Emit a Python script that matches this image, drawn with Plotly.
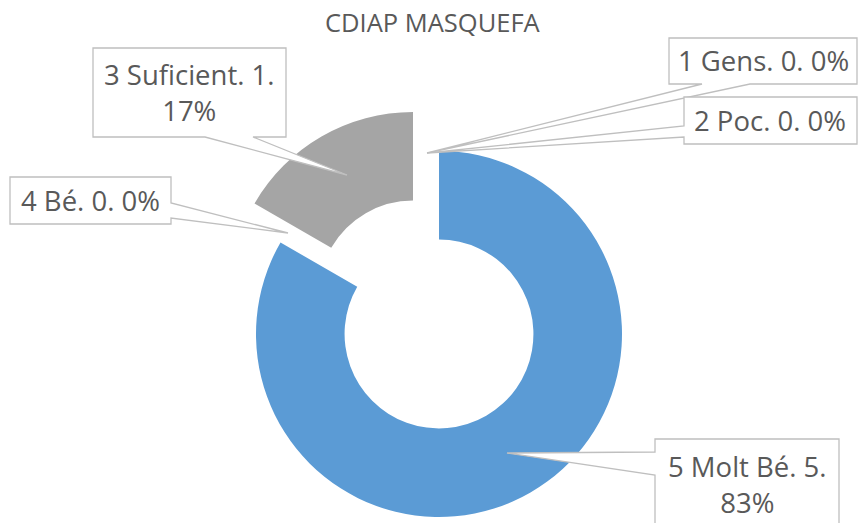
import plotly.graph_objects as go

# ---- data ----
categories = ["1 Gens", "2 Poc", "3 Suficient", "4 Bé", "5 Molt Bé"]
values = [0, 0, 1, 0, 5]
percent_labels = ["0%", "0%", "17%", "0%", "83%"]
title_text = "CDIAP MASQUEFA"

W, H = 858, 523
BLUE = "#5B9BD5"
GRAY = "#A5A5A5"
TXT = "#595959"
LINE = "#BFBFBF"
CLEAR = "rgba(0,0,0,0)"


def px(x):
    return x / W


def py(y):
    return 1 - y / H


def dom(cx, cy, r):
    return dict(x=[px(cx - r), px(cx + r)], y=[py(cy + r), py(cy - r)])


R = 183
HOLE = 0.516

fig = go.Figure()
# main (blue) ring
fig.add_trace(go.Pie(
    labels=categories, values=values, sort=False, direction="counterclockwise",
    rotation=0, hole=HOLE, textinfo="none", hoverinfo="label+value+percent",
    marker=dict(colors=[CLEAR, CLEAR, CLEAR, CLEAR, BLUE], line=dict(width=0)),
    domain=dom(439, 334, R), showlegend=False,
))
# exploded (gray) slice
fig.add_trace(go.Pie(
    labels=categories, values=values, sort=False, direction="counterclockwise",
    rotation=0, hole=HOLE, textinfo="none", hoverinfo="label+value+percent",
    marker=dict(colors=[CLEAR, CLEAR, GRAY, CLEAR, CLEAR], line=dict(width=0)),
    domain=dom(413, 295, R), showlegend=False,
))


def P(x, y):
    return f"{px(x):.5f},{py(y):.5f}"


callouts = [
    [(93, 48), (286, 48), (286, 137), (253, 137), (347, 175), (205, 137), (93, 137)],
    [(10, 177), (171, 177), (171, 203), (288, 233), (171, 218), (171, 224), (10, 224)],
    [(669, 38), (857, 38), (857, 84), (750, 84), (427, 153), (702, 84), (669, 84)],
    [(684, 97), (857, 97), (857, 144), (684, 144), (684, 137), (427, 153), (684, 126)],
    [(655, 439), (839, 439), (839, 560), (655, 560), (655, 475), (507, 453), (655, 452)],
]
shapes = []
for pts in callouts:
    d = "M " + " L ".join(P(x, y) for x, y in pts) + " Z"
    shapes.append(dict(type="path", path=d, xref="paper", yref="paper",
                       fillcolor="white", line=dict(color=LINE, width=1.3),
                       layer="above"))

label_pos = [(763, 61), (770, 120.5), (189.5, 93), (90.5, 200.5), (747, 484)]
annotations = []
for i, (cat, v, pct) in enumerate(zip(categories, values, percent_labels)):
    if cat.startswith("3") or cat.startswith("5"):
        txt = f"{cat}. {v}.<br>{pct}"
    else:
        txt = f"{cat}. {v}. {pct}"
    x, y = label_pos[i]
    annotations.append(dict(text=txt, x=px(x), y=py(y), xref="paper", yref="paper",
                            showarrow=False, xanchor="center", yanchor="middle",
                            font=dict(family="Open Sans", size=27.5, color=TXT)))

annotations.append(dict(text=title_text, x=px(433), y=py(22), xref="paper", yref="paper",
                        showarrow=False, xanchor="center", yanchor="middle",
                        font=dict(family="Open Sans", size=25.5, color=TXT)))

fig.update_layout(
    width=W, height=H, margin=dict(l=0, r=0, t=0, b=0),
    paper_bgcolor="white", plot_bgcolor="white",
    shapes=shapes, annotations=annotations, showlegend=False,
)

fig.write_html("out.html", config={"displayModeBar": False},
               post_script="document.body.style.margin='0';document.body.style.overflow='hidden';")
